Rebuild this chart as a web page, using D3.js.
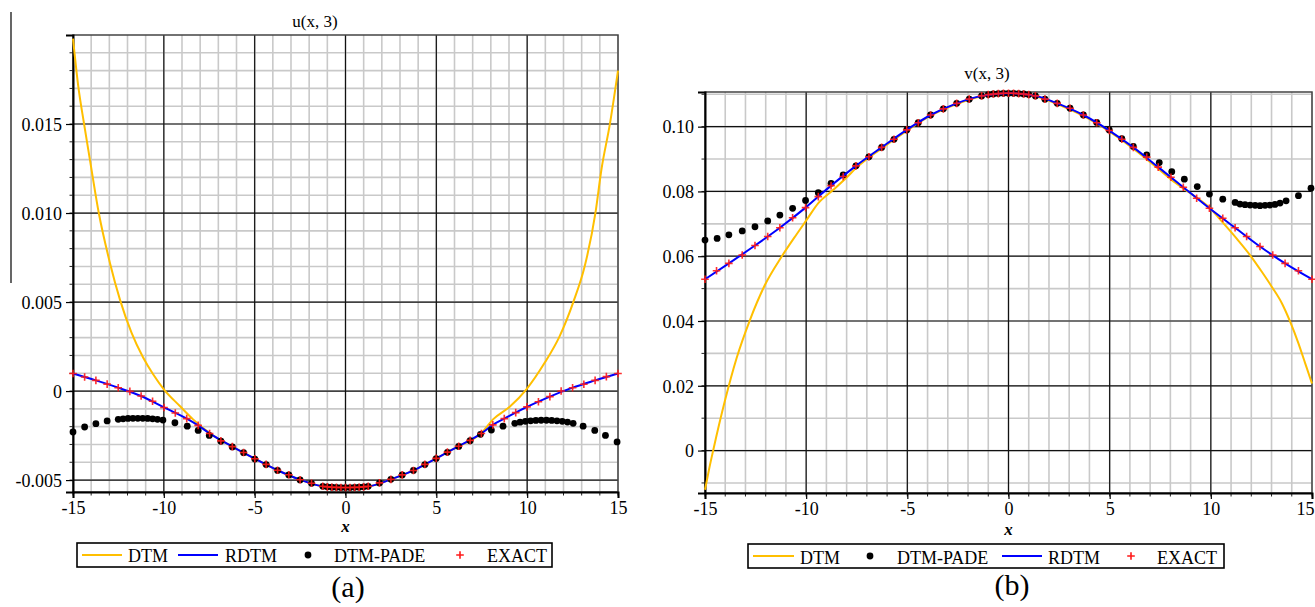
<!DOCTYPE html>
<html><head><meta charset="utf-8">
<script src="https://cdn.jsdelivr.net/npm/d3@7"></script>
<style>
html,body{margin:0;padding:0;background:#fff;}
svg text{font-family:"Liberation Serif","Times New Roman",serif;fill:#000;}
</style></head>
<body>
<svg id="chart" width="1315" height="607"></svg>
<script>
// ---------- DATA : panel (a) u(x,3) ----------
const xTicks = [-15, -10, -5, 0, 5, 10, 15];
const xTickLabels = ["-15", "-10", "-5", "0", "5", "10", "15"];
const uYTicks = [-0.005, 0, 0.005, 0.010, 0.015];
const uYTickLabels = ["-0.005", "0", "0.005", "0.010", "0.015"];
const vYTicks = [0, 0.02, 0.04, 0.06, 0.08, 0.10];
const vYTickLabels = ["0", "0.02", "0.04", "0.06", "0.08", "0.10"];

const uExactX = [-15, -14.36, -13.74, -13.12, -12.51, -11.87, -11.25, -10.62, -9.99, -9.37, -8.74, -8.11, -7.48, -6.86, -6.23, -5.61, -4.99, -4.37, -3.74, -3.12, -2.50, -1.87, -1.25, -1.0, -0.75, -0.5, -0.25, 0, 0.25, 0.5, 0.75, 1.0, 1.25, 1.87, 2.50, 3.12, 3.74, 4.37, 4.99, 5.61, 6.23, 6.86, 7.48, 8.11, 8.74, 9.37, 9.99, 10.62, 11.25, 11.87, 12.50, 13.12, 13.74, 14.36, 15];
const uExact = [0.00099, 0.00079, 0.00060, 0.00039, 0.00019, -0.00002, -0.00028, -0.00057, -0.00092, -0.00123, -0.00155, -0.00193, -0.00238, -0.00280, -0.00312, -0.00345, -0.00380, -0.00412, -0.00445, -0.00470, -0.00498, -0.00518, -0.00535, -0.00538, -0.00540, -0.00541, -0.00542, -0.00542, -0.00542, -0.00541, -0.00540, -0.00538, -0.00535, -0.00516, -0.00496, -0.00471, -0.00446, -0.00412, -0.00378, -0.00343, -0.00310, -0.00277, -0.00238, -0.00190, -0.00155, -0.00121, -0.00089, -0.00060, -0.00031, 0.00000, 0.00019, 0.00038, 0.00060, 0.00081, 0.00099];

const uRdtmX = [-15, -13.74, -12.51, -11.25, -9.99, -8.74, -8.11, -7.48, -6.23, -4.99, -3.74, -2.50, -1.25, 0, 1.25, 2.50, 3.74, 4.99, 6.23, 7.48, 8.11, 8.74, 9.99, 11.25, 12.50, 13.74, 15];
const uRdtm = [0.00099, 0.00060, 0.00019, -0.00028, -0.00092, -0.00155, -0.00193, -0.00238, -0.00312, -0.00380, -0.00445, -0.00498, -0.00535, -0.00542, -0.00535, -0.00496, -0.00446, -0.00378, -0.00310, -0.00238, -0.00190, -0.00155, -0.00089, -0.00031, 0.00019, 0.00060, 0.00099];

const uDtmX = [-15, -14.72, -14.39, -14.07, -13.58, -12.97, -12.42, -11.78, -11.14, -10.59, -10.0, -9.12, -8.39, -7.48, -6.23, -4.99, -3.74, -2.50, -1.25, 0, 1.25, 2.50, 3.74, 4.99, 6.23, 7.48, 8.12, 9.04, 9.96, 10.97, 11.79, 12.53, 13.17, 13.76, 14.09, 14.55, 15];
const uDtm = [0.0198, 0.0172, 0.0150, 0.0130, 0.0100, 0.00721, 0.00515, 0.00328, 0.00188, 0.00094, 0.00010, -0.00084, -0.00159, -0.00236, -0.00312, -0.00380, -0.00445, -0.00498, -0.00535, -0.00542, -0.00535, -0.00496, -0.00446, -0.00378, -0.00310, -0.00236, -0.00159, -0.00088, 0.00010, 0.00160, 0.00309, 0.00497, 0.00702, 0.01002, 0.01246, 0.01498, 0.0180];

const uPadeX = [-15, -14.36, -13.74, -13.12, -12.51, -12.24, -11.97, -11.70, -11.43, -11.16, -10.89, -10.62, -10.35, -10.05, -9.39, -8.71, -8.11, -7.50, -6.86, -6.23, -5.61, -4.99, -4.37, -3.74, -3.12, -2.50, -1.87, -1.25, -1.0, -0.75, -0.5, -0.25, 0, 0.25, 0.5, 0.75, 1.0, 1.25, 1.87, 2.50, 3.12, 3.74, 4.37, 4.99, 5.61, 6.23, 6.86, 7.43, 8.03, 8.67, 9.32, 9.61, 9.90, 10.19, 10.48, 10.77, 11.06, 11.35, 11.64, 11.93, 12.22, 12.53, 13.08, 13.72, 14.31, 14.95];
const uPade = [-0.00230, -0.00202, -0.00183, -0.00168, -0.00159, -0.00156, -0.00154, -0.00153, -0.00153, -0.00153, -0.00154, -0.00156, -0.00159, -0.00163, -0.00178, -0.00197, -0.00221, -0.00249, -0.00282, -0.00314, -0.00346, -0.00382, -0.00413, -0.00446, -0.00471, -0.00499, -0.00518, -0.00535, -0.00538, -0.00540, -0.00541, -0.00542, -0.00542, -0.00542, -0.00541, -0.00540, -0.00538, -0.00535, -0.00516, -0.00496, -0.00471, -0.00446, -0.00413, -0.00379, -0.00344, -0.00311, -0.00279, -0.00243, -0.00219, -0.00197, -0.00181, -0.00175, -0.00170, -0.00167, -0.00165, -0.00164, -0.00164, -0.00165, -0.00167, -0.00170, -0.00174, -0.00181, -0.00197, -0.00221, -0.00249, -0.00286];

// ---------- DATA : panel (b) v(x,3) ----------
const vExactX = [-15, -14.43, -13.82, -13.16, -12.53, -11.90, -11.30, -10.67, -10.03, -9.40, -8.77, -8.17, -7.54, -6.90, -6.27, -5.66, -5.03, -4.46, -3.85, -3.22, -2.56, -1.94, -1.33, -1.0, -0.75, -0.5, -0.25, 0, 0.25, 0.5, 0.75, 1.0, 1.33, 1.80, 2.41, 3.04, 3.70, 4.36, 4.98, 5.60, 6.17, 6.83, 7.40, 8.03, 8.64, 9.30, 9.93, 10.59, 11.20, 11.77, 12.43, 13.06, 13.67, 14.33, 15];
const vExact = [0.0529, 0.0555, 0.0578, 0.0604, 0.0633, 0.0661, 0.0688, 0.0719, 0.0750, 0.0784, 0.0818, 0.0846, 0.0879, 0.0907, 0.0936, 0.0961, 0.0990, 0.1012, 0.1036, 0.1055, 0.1072, 0.1085, 0.1095, 0.1099, 0.1101, 0.1102, 0.1103, 0.1103, 0.1103, 0.1102, 0.1101, 0.1099, 0.1095, 0.1085, 0.1072, 0.1057, 0.1036, 0.1012, 0.0988, 0.0961, 0.0936, 0.0906, 0.0875, 0.0844, 0.0813, 0.0779, 0.0748, 0.0717, 0.0688, 0.0661, 0.0630, 0.0604, 0.0578, 0.0555, 0.0529];

const vRdtmX = [-15, -13.82, -12.53, -11.30, -10.03, -8.77, -7.54, -6.27, -5.03, -3.85, -2.56, -1.33, 0, 1.33, 2.41, 3.70, 4.98, 6.17, 7.40, 8.64, 9.93, 11.20, 12.43, 13.67, 15];
const vRdtm = [0.0529, 0.0578, 0.0633, 0.0688, 0.0750, 0.0818, 0.0879, 0.0936, 0.0990, 0.1036, 0.1072, 0.1095, 0.1103, 0.1095, 0.1072, 0.1036, 0.0988, 0.0936, 0.0875, 0.0813, 0.0748, 0.0688, 0.0630, 0.0578, 0.0529];

const vDtmX = [-15, -14.80, -14.59, -14.01, -13.44, -12.78, -12.04, -11.21, -10.47, -9.98, -9.40, -8.66, -8.00, -7.54, -6.27, -5.03, -3.85, -2.56, -1.33, 0, 1.33, 2.41, 3.70, 4.98, 6.17, 7.40, 8.03, 8.97, 9.96, 10.62, 11.28, 11.99, 12.52, 13.01, 13.51, 13.92, 14.33, 14.66, 14.94, 15];
const vDtm = [-0.0121, -0.0058, 0.0002, 0.0155, 0.0285, 0.0403, 0.0511, 0.0599, 0.0668, 0.0712, 0.0764, 0.0805, 0.0843, 0.0872, 0.0933, 0.0987, 0.1034, 0.1070, 0.1094, 0.1103, 0.1094, 0.1070, 0.1033, 0.0985, 0.0932, 0.0870, 0.0837, 0.0795, 0.0748, 0.0702, 0.0654, 0.0599, 0.0552, 0.0506, 0.0455, 0.0398, 0.0331, 0.0270, 0.0218, 0.0207];

const vPadeX = [-15, -14.40, -13.82, -13.16, -12.53, -11.90, -11.30, -10.67, -10.03, -9.40, -8.77, -8.17, -7.54, -6.90, -6.27, -5.66, -5.03, -4.46, -3.85, -3.22, -2.56, -1.94, -1.33, -1.0, -0.75, -0.5, -0.25, 0, 0.25, 0.5, 0.75, 1.0, 1.33, 1.80, 2.41, 3.04, 3.70, 4.36, 4.98, 5.60, 6.17, 6.83, 7.45, 8.07, 8.69, 9.33, 9.93, 10.59, 11.20, 11.44, 11.69, 11.94, 12.19, 12.43, 12.68, 12.92, 13.17, 13.42, 13.72, 14.33, 14.95];
const vPade = [0.0650, 0.0655, 0.0666, 0.0678, 0.0691, 0.0709, 0.0727, 0.0748, 0.0772, 0.0796, 0.0825, 0.0851, 0.0879, 0.0907, 0.0936, 0.0961, 0.0990, 0.1012, 0.1036, 0.1055, 0.1072, 0.1085, 0.1095, 0.1099, 0.1101, 0.1102, 0.1103, 0.1103, 0.1103, 0.1102, 0.1101, 0.1099, 0.1095, 0.1085, 0.1072, 0.1057, 0.1036, 0.1013, 0.0990, 0.0963, 0.0939, 0.0913, 0.0889, 0.0861, 0.0838, 0.0815, 0.0792, 0.0776, 0.0766, 0.0761, 0.0759, 0.0758, 0.0757, 0.0756, 0.0757, 0.0758, 0.0760, 0.0764, 0.0771, 0.0787, 0.0810];

// ---------- DRAWING ----------
const svg = d3.select("#chart");
const COL = {dtm: "#ffbf00", rdtm: "#0000ff", pade: "#000000", exact: "#ff1a1a"};
const zip = (xs, ys) => xs.map((x, i) => [x, ys[i]]);
const FONT = '"Liberation Serif","Times New Roman",serif';

function panel(o) {
  const g = svg.append("g");
  const x = d3.scaleLinear().domain([-15, 15]).range([o.x0, o.x1]);
  const y = d3.scaleLinear().domain(o.yDom).range([o.y1, o.y0]);
  const W = o.x1 - o.x0, H = o.y1 - o.y0;

  // minor grid
  const xMinor = d3.range(-15, 15.01, 1);
  const yMinor = d3.range(Math.ceil(o.yDom[0] / o.yMinorStep) * o.yMinorStep, o.yDom[1], o.yMinorStep);
  g.append("g").selectAll("line").data(xMinor).join("line")
    .attr("x1", d => x(d)).attr("x2", d => x(d)).attr("y1", o.y0).attr("y2", o.y1)
    .attr("stroke", "#c9c9c9").attr("stroke-width", 1.6);
  g.append("g").selectAll("line").data(yMinor).join("line")
    .attr("y1", d => y(d)).attr("y2", d => y(d)).attr("x1", o.x0).attr("x2", o.x1)
    .attr("stroke", "#c9c9c9").attr("stroke-width", 1.6);
  // major grid
  g.append("g").selectAll("line").data(xTicks.slice(1, -1)).join("line")
    .attr("x1", d => x(d)).attr("x2", d => x(d)).attr("y1", o.y0).attr("y2", o.y1)
    .attr("stroke", "#111").attr("stroke-width", 1.2);
  g.append("g").selectAll("line").data(o.yTicks).join("line")
    .attr("y1", d => y(d)).attr("y2", d => y(d)).attr("x1", o.x0).attr("x2", o.x1)
    .attr("stroke", "#111").attr("stroke-width", 1.2);
  // minor tick marks
  g.append("g").selectAll("line").data(xMinor).join("line")
    .attr("x1", d => x(d)).attr("x2", d => x(d)).attr("y1", o.y1).attr("y2", o.y1 + 3.5)
    .attr("stroke", "#222").attr("stroke-width", 1);
  g.append("g").selectAll("line").data(yMinor).join("line")
    .attr("y1", d => y(d)).attr("y2", d => y(d)).attr("x1", o.x0 - 3.5).attr("x2", o.x0)
    .attr("stroke", "#222").attr("stroke-width", 1);

  // frame
  g.append("rect").attr("x", o.x0).attr("y", o.y0).attr("width", W).attr("height", H)
    .attr("fill", "none").attr("stroke", "#444").attr("stroke-width", 1.5);

  // axes
  const ax = g.append("g").attr("transform", `translate(0,${o.y1})`)
    .call(d3.axisBottom(x).tickValues(xTicks).tickFormat((d, i) => xTickLabels[i]).tickSize(6).tickPadding(4));
  const ay = g.append("g").attr("transform", `translate(${o.x0},0)`)
    .call(d3.axisLeft(y).tickValues(o.yTicks).tickFormat((d, i) => o.yLabels[i]).tickSize(7).tickPadding(4));
  [ax, ay].forEach(a => {
    a.attr("font-family", FONT);
    a.select(".domain").attr("stroke", "#000").attr("stroke-width", 2);
    a.selectAll(".tick line").attr("stroke", "#000").attr("stroke-width", 1.2);
    a.selectAll("text").attr("font-size", 18).attr("font-family", FONT).attr("fill", "#000");
  });
  ax.selectAll("text").attr("dy", "0.71em").attr("y", 9);
  ay.selectAll("text").attr("dy", "0.35em");
  if (o.lastLabelEnd) {
    ax.selectAll(".tick").filter(d => d === 15).select("text")
      .attr("text-anchor", "end").attr("x", o.lastLabelEnd - x(15));
  }

  // title & x label
  g.append("text").attr("x", o.titleX).attr("y", o.titleY).attr("text-anchor", "middle")
    .attr("font-size", 17).text(o.title);
  g.append("text").attr("x", x(0)).attr("y", o.xLabY).attr("text-anchor", "middle")
    .attr("font-size", 17).attr("font-style", "italic").attr("font-weight", "bold").text("x");

  const clip = "clip" + o.id;
  g.append("clipPath").attr("id", clip).append("rect")
    .attr("x", o.x0 - 6).attr("y", o.y0 - 6).attr("width", W + 12).attr("height", H + 12);
  const plot = g.append("g").attr("clip-path", `url(#${clip})`);
  const line = d3.line().x(d => x(d[0])).y(d => y(d[1])).curve(d3.curveMonotoneX);

  const drawers = {
    dtm: () => plot.append("path").datum(zip(o.dtmX, o.dtm)).attr("d", line)
      .attr("fill", "none").attr("stroke", COL.dtm).attr("stroke-width", 2),
    rdtm: () => plot.append("path").datum(zip(o.rdtmX, o.rdtm)).attr("d", line)
      .attr("fill", "none").attr("stroke", COL.rdtm).attr("stroke-width", 2),
    pade: () => plot.append("g").selectAll("circle").data(zip(o.padeX, o.pade)).join("circle")
      .attr("cx", d => x(d[0])).attr("cy", d => y(d[1])).attr("r", 3.4).attr("fill", COL.pade),
    exact: () => plot.append("g").selectAll("path").data(zip(o.exactX, o.exact)).join("path")
      .attr("transform", d => `translate(${x(d[0])},${y(d[1])})`)
      .attr("d", "M-3.8,0H3.8M0,-3.8V3.8").attr("stroke", COL.exact).attr("stroke-width", 1.6)
      .attr("stroke-opacity", 0.9)
  };
  o.order.forEach(k => drawers[k]());

  // legend
  const L = o.legend;
  const lg = g.append("g");
  lg.append("rect").attr("x", L.x0).attr("y", L.y0).attr("width", L.x1 - L.x0).attr("height", L.y1 - L.y0)
    .attr("fill", "#fff").attr("stroke", "#000").attr("stroke-width", 1.6);
  const cy = (L.y0 + L.y1) / 2;
  L.items.forEach(it => {
    if (it.k === "dtm" || it.k === "rdtm") {
      lg.append("line").attr("x1", it.m0).attr("x2", it.m1).attr("y1", cy).attr("y2", cy)
        .attr("stroke", COL[it.k]).attr("stroke-width", 2);
    } else if (it.k === "pade") {
      lg.append("circle").attr("cx", it.m0).attr("cy", cy).attr("r", 3.4).attr("fill", "#000");
    } else {
      lg.append("path").attr("transform", `translate(${it.m0},${cy})`)
        .attr("d", "M-3.8,0H3.8M0,-3.8V3.8").attr("stroke", COL.exact).attr("stroke-width", 1.6);
    }
    lg.append("text").attr("x", it.t).attr("y", L.base).attr("font-size", 18).text(it.label);
  });
  g.append("text").attr("x", o.capX).attr("y", o.capY).attr("text-anchor", "middle")
    .attr("font-size", 30).text(o.cap);
}

panel({
  id: "a", x0: 73, x1: 618, y0: 35, y1: 492, yDom: [-0.00567, 0.0200], yMinorStep: 0.001,
  yTicks: uYTicks, yLabels: uYTickLabels, title: "u(x, 3)", titleX: 315, titleY: 27, xLabY: 532,
  dtmX: uDtmX, dtm: uDtm, rdtmX: uRdtmX, rdtm: uRdtm, padeX: uPadeX, pade: uPade, exactX: uExactX, exact: uExact,
  order: ["dtm", "rdtm", "pade", "exact"],
  legend: {x0: 77, x1: 552, y0: 543, y1: 567, base: 562, items: [
    {k: "dtm", m0: 82, m1: 122, t: 128, label: "DTM"},
    {k: "rdtm", m0: 178, m1: 218, t: 225, label: "RDTM"},
    {k: "pade", m0: 308, t: 334, label: "DTM-PADE"},
    {k: "exact", m0: 460, t: 487, label: "EXACT"}]},
  cap: "(a)", capX: 348, capY: 597
});

panel({
  id: "b", x0: 705, x1: 1312, y0: 92, y1: 493, yDom: [-0.0131, 0.1107], yMinorStep: 0.01,
  yTicks: vYTicks, yLabels: vYTickLabels, title: "v(x, 3)", titleX: 987, titleY: 79, xLabY: 535,
  dtmX: vDtmX, dtm: vDtm, rdtmX: vRdtmX, rdtm: vRdtm, padeX: vPadeX, pade: vPade, exactX: vExactX, exact: vExact,
  order: ["dtm", "pade", "rdtm", "exact"], lastLabelEnd: 1314,
  legend: {x0: 748, x1: 1224, y0: 544, y1: 568, base: 564, items: [
    {k: "dtm", m0: 753, m1: 794, t: 800, label: "DTM"},
    {k: "pade", m0: 870, t: 897, label: "DTM-PADE"},
    {k: "rdtm", m0: 1002, m1: 1042, t: 1048, label: "RDTM"},
    {k: "exact", m0: 1131, t: 1157, label: "EXACT"}]},
  cap: "(b)", capX: 1012, capY: 595
});

// thin vertical rule at the far left of the figure
svg.append("line").attr("x1", 11).attr("x2", 11).attr("y1", 12).attr("y2", 283)
  .attr("stroke", "#000").attr("stroke-width", 1.2);
</script>
</body></html>
